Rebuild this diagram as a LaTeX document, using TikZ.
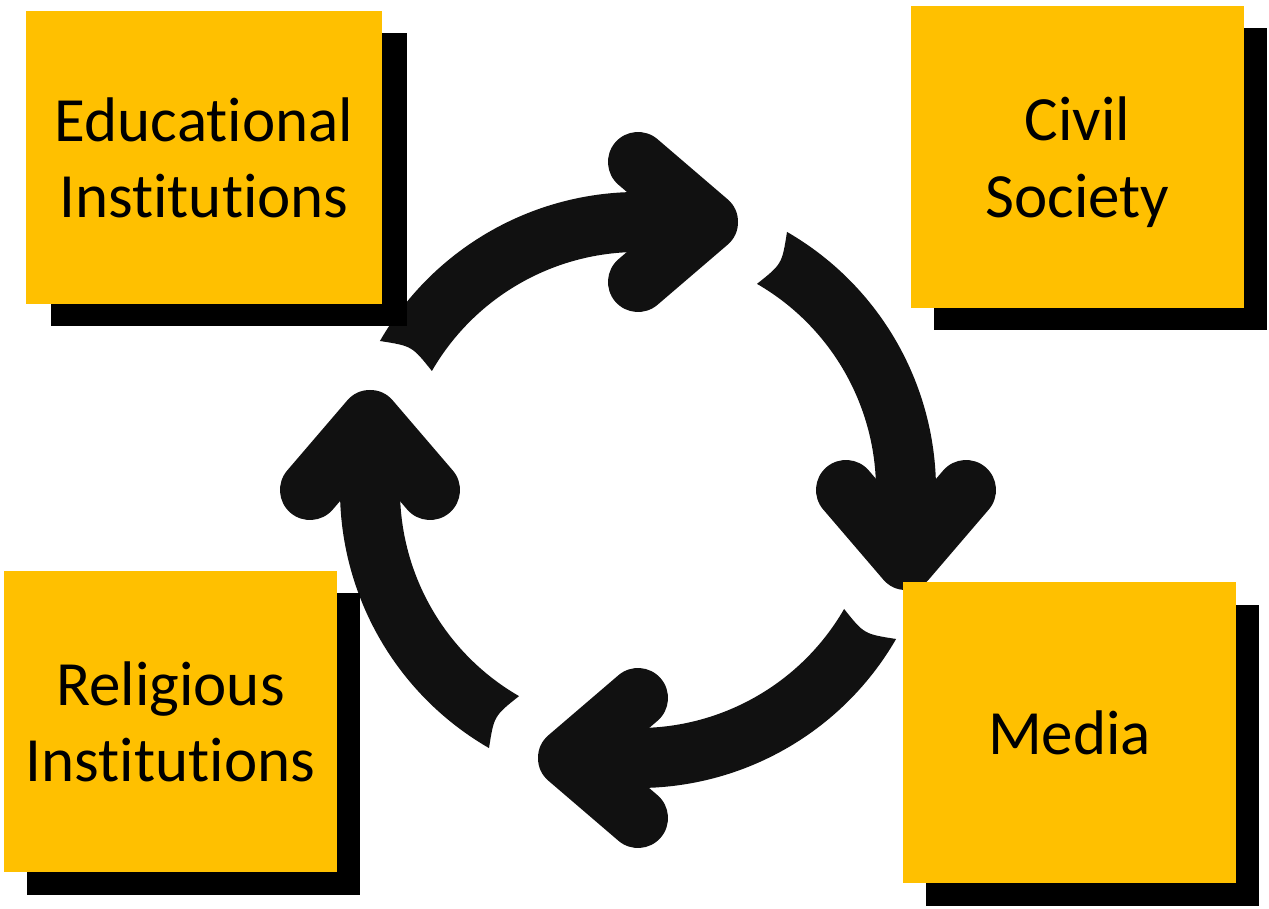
\documentclass[tikz,border=0pt]{standalone}
\usepackage{fontspec}
\setmainfont{Carlito}[Ligatures={NoCommon,NoRequired,NoContextual}]
\usetikzlibrary{shadows}
\definecolor{boxyellow}{HTML}{FFC000}
\definecolor{iconblk}{HTML}{111111}
\begin{document}
\begin{tikzpicture}[x=1pt,y=1pt,
  labelbox/.style={rectangle, fill=boxyellow, inner sep=0pt, align=center,
    text depth=0pt, font=\fontsize{63pt}{76.5pt}\selectfont, text=black},
  boxshadow/.style 2 args={general shadow={fill=black, shadow xshift=#1pt, shadow yshift=#2pt}},
  arcband/.style={fill=iconblk},
  headstroke/.style={draw=iconblk, line width=60pt, line cap=round, line join=round}]
\useasboundingbox (0,0) rectangle (1269,908);
\fill[white] (0,0) rectangle (1269,908);
% cycle icon: four rotated copies of one arrow
\foreach \k in {0,1,2,3} {
  \begin{scope}[shift={(638,418)}, rotate=-90*\k]
    \fill[arcband] (150:298) arc[start angle=150, end angle=80, radius=298pt]
      -- (80:238) arc[start angle=80, end angle=150, radius=238pt]
      .. controls (147.5:268) .. (150:298) -- cycle;
    \draw[headstroke] (0,328) -- (70,268) -- (0,208);
  \end{scope}
}
% boxes
\node[labelbox, minimum width=356pt, minimum height=293pt, boxshadow={25}{-22}]
  (edu) at (204,750.5) {Educational\\Institutions};
\node[labelbox, minimum width=333pt, minimum height=302pt, boxshadow={23}{-22}]
  (civ) at (1077.5,751) {Civil\\Society};
\node[labelbox, minimum width=333pt, minimum height=301pt, boxshadow={23}{-22.5}]
  (rel) at (170.5,186.5) {Religious\\Institutions};
\node[labelbox, minimum width=333pt, minimum height=301pt, boxshadow={23}{-23}]
  (med) at (1069.5,175.5) {Media};
\end{tikzpicture}
\end{document}
